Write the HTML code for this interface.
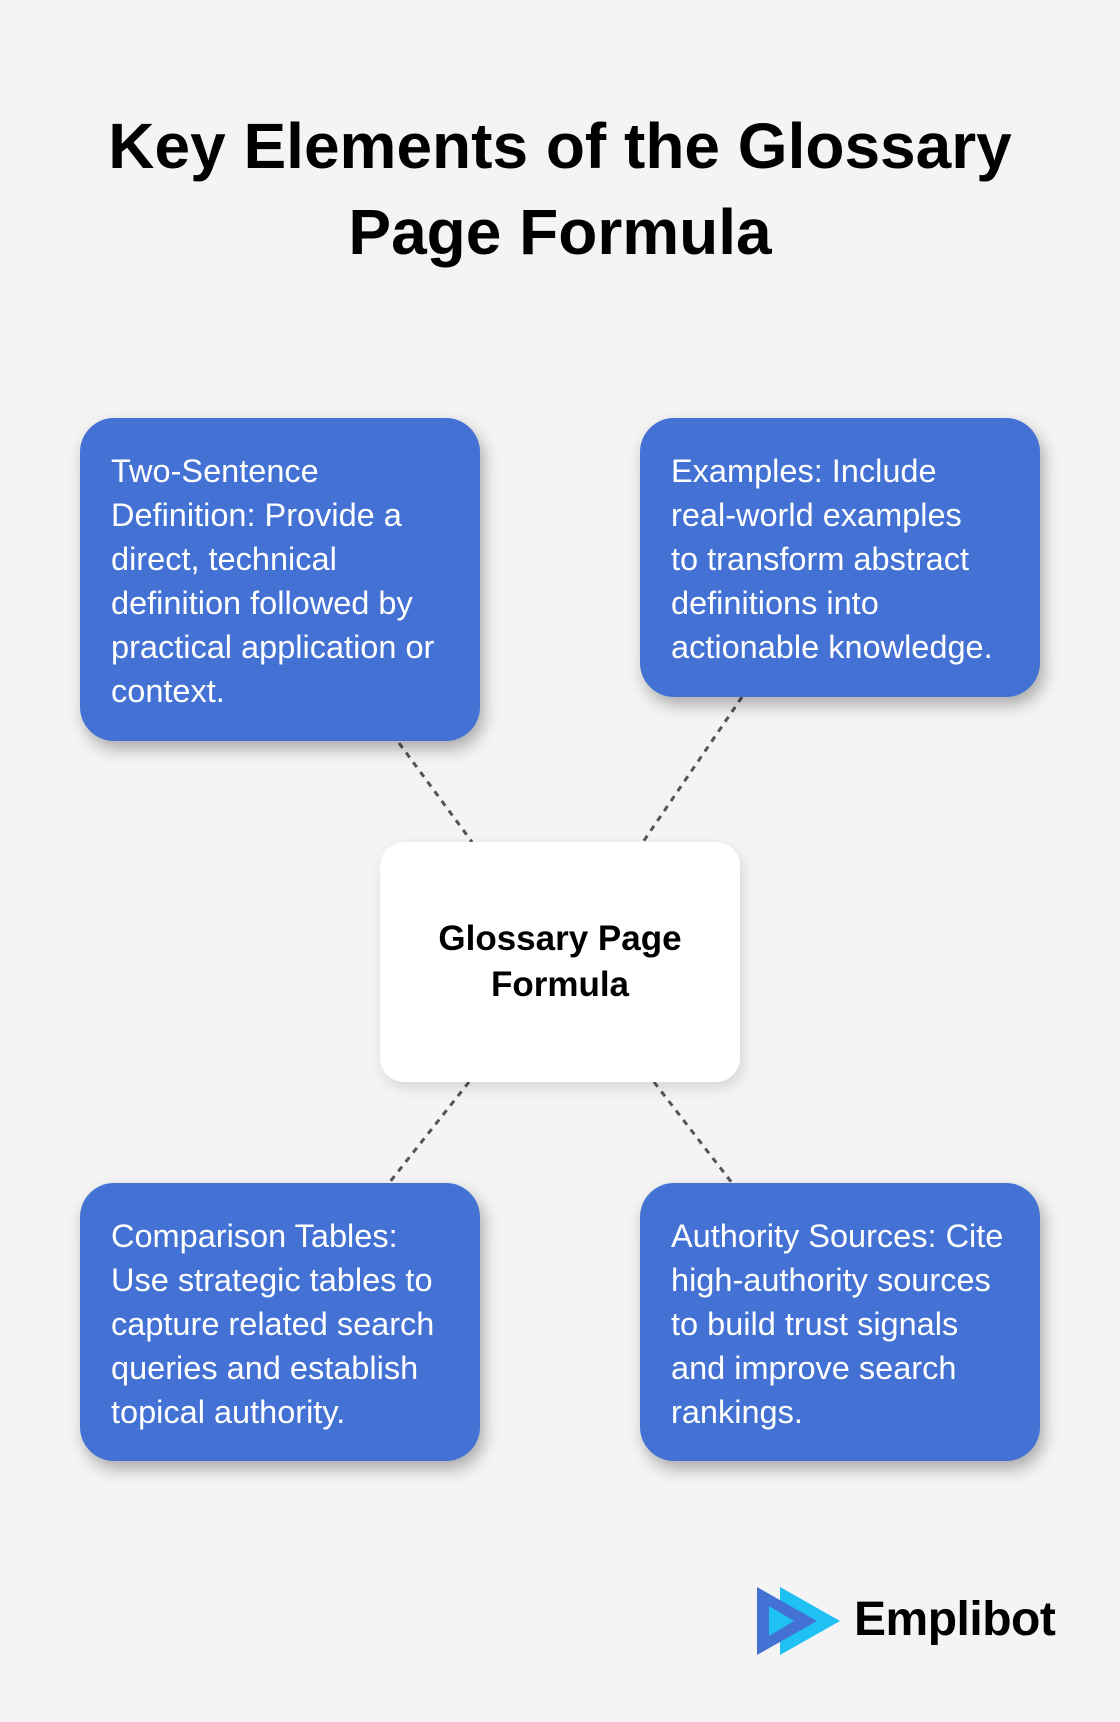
<!DOCTYPE html>
<html><head><meta charset="utf-8"><style>
body{margin:0;width:1120px;height:1722px;background:#f4f4f4;position:relative;font-family:"Liberation Sans",sans-serif;overflow:hidden}
.t{position:absolute;left:0;width:1120px;text-align:center;font-weight:bold;font-size:64px;color:#000}
.b{position:absolute;width:400px;background:#4472d4;border-radius:34px;box-shadow:4px 8px 16px rgba(0,0,0,0.3);color:#fff;font-size:32.5px;line-height:44px;box-sizing:border-box;padding:31px 10px 0 31px;white-space:nowrap}
.c{position:absolute;left:380px;top:842px;width:360px;height:240px;background:#fff;border-radius:24px;box-shadow:3px 6px 14px rgba(0,0,0,0.12);display:flex;align-items:center;justify-content:center;text-align:center;font-weight:bold;font-size:35px;line-height:46px;color:#000}
</style></head><body>
<div class="t" style="top:109px">Key Elements of the Glossary</div>
<div class="t" style="top:195px">Page Formula</div>
<svg width="1120" height="1722" style="position:absolute;left:0;top:0">
<g stroke="#555" stroke-width="3" stroke-dasharray="6,6">
<line x1="399" y1="743" x2="472" y2="842"/>
<line x1="742" y1="697" x2="643" y2="842"/>
<line x1="469" y1="1082" x2="389" y2="1183"/>
<line x1="654" y1="1082" x2="732" y2="1183"/>
</g>
<polygon points="780,1587 840,1621 780,1655" fill="#1fc0f2"/>
<polygon points="757,1587 817,1621 757,1655" fill="#4472d4"/>
<polygon points="769,1606 794,1621 769,1636" fill="#1fc0f2"/>
</svg>
<div class="b" style="left:80px;top:418px;height:323px">Two-Sentence<br>Definition: Provide a<br>direct, technical<br>definition followed by<br>practical application or<br>context.</div>
<div class="b" style="left:640px;top:418px;height:279px">Examples: Include<br>real-world examples<br>to transform abstract<br>definitions into<br>actionable knowledge.</div>
<div class="c">Glossary Page<br>Formula</div>
<div class="b" style="left:80px;top:1183px;height:278px">Comparison Tables:<br>Use strategic tables to<br>capture related search<br>queries and establish<br>topical authority.</div>
<div class="b" style="left:640px;top:1183px;height:278px">Authority Sources: Cite<br>high-authority sources<br>to build trust signals<br>and improve search<br>rankings.</div>
<div style="position:absolute;left:854px;top:1594px;font-weight:bold;font-size:48px;letter-spacing:-0.5px;color:#000;line-height:52px">Emplibot</div>
</body></html>
